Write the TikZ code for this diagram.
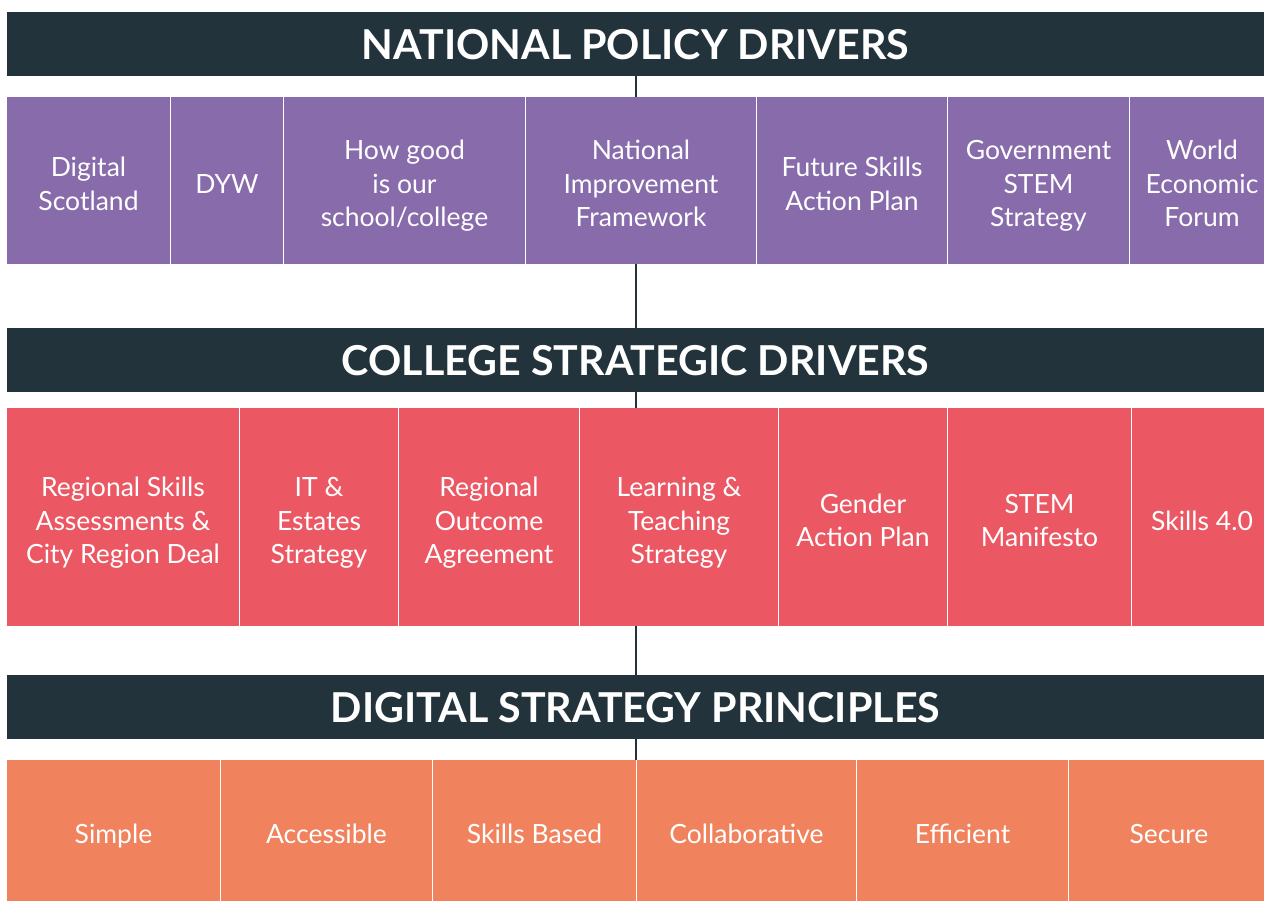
\documentclass[tikz,border=0pt]{standalone}
\usepackage{fontspec}
\setmainfont{Lato}
\usetikzlibrary{positioning}
\definecolor{headcol}{HTML}{22333B}
\definecolor{natcol}{HTML}{886BAB}
\definecolor{colcol}{HTML}{EB5864}
\definecolor{digcol}{HTML}{F0825D}
\newcommand{\topline}{\rule{0pt}{34pt}}
\begin{document}
\begin{tikzpicture}[x=1pt,y=-1pt]
   \tikzstyle{header}=[fill=headcol,text=white,anchor=north west,inner sep=0,outer sep=0,
      minimum width=1257pt,minimum height=64pt,text height=31.5pt,text depth=0pt,
      font=\fontsize{41.2}{48}\selectfont\bfseries]
   \tikzstyle{box}=[text=white,align=center,inner sep=0,outer sep=0,
      font=\fontsize{26.5}{33.5}\selectfont,
      execute at end node={\rule[-8pt]{0pt}{8pt}}]
   \tikzstyle{nat}=[box,fill=natcol,minimum height=167pt]
   \tikzstyle{col}=[box,fill=colcol,minimum height=218pt]
   \tikzstyle{dig}=[box,fill=digcol,minimum height=141pt]
   \tikzstyle{spine}=[draw=headcol,line width=2pt]
   \useasboundingbox (0,0) rectangle (1264,901);
   \coordinate (axis) at (636,0);
   % national policy drivers
   \node (npd) [header] at (7,12) {NATIONAL POLICY DRIVERS};
   \node (digital) [nat,anchor=north west,minimum width=163pt] at (7,97) {\topline Digital\\Scotland};
   \node (dyw) [nat,right=1pt of digital,minimum width=112pt] {\topline DYW};
   \node (hgios) [nat,right=1pt of dyw,minimum width=241pt] {\topline How good\\is our\\school/college};
   \node (nif) [nat,right=1pt of hgios,minimum width=230pt] {\topline National\\Improvement\\Framework};
   \node (fsap) [nat,right=1pt of nif,minimum width=190pt] {\topline Future Skills\\Action Plan};
   \node (gstem) [nat,right=1pt of fsap,minimum width=181pt] {\topline Government\\STEM\\Strategy};
   \node (wef) [nat,right=1pt of gstem,minimum width=144pt] {\topline World\\Economic\\Forum};
   % college strategic drivers
   \node (csd) [header] at (7,328) {COLLEGE STRATEGIC DRIVERS};
   \node (rsa) [col,anchor=north west,minimum width=232pt] at (7,408) {\topline Regional Skills\\Assessments \&\\City Region Deal};
   \node (ites) [col,right=1pt of rsa,minimum width=158pt] {\topline IT \&\\Estates\\Strategy};
   \node (roa) [col,right=1pt of ites,minimum width=180pt] {\topline Regional\\Outcome\\Agreement};
   \node (lts) [col,right=1pt of roa,minimum width=198pt] {\topline Learning \&\\Teaching\\Strategy};
   \node (gap) [col,right=1pt of lts,minimum width=168pt] {\topline Gender\\Action Plan};
   \node (stemm) [col,right=1pt of gap,minimum width=183pt] {\topline STEM\\Manifesto};
   \node (skills) [col,right=1pt of stemm,minimum width=140pt] {\topline Skills 4.0};
   % digital strategy principles
   \node (dsp) [header] at (7,675) {DIGITAL STRATEGY PRINCIPLES};
   \node (simple) [dig,anchor=north west,minimum width=213pt] at (7,760) {\topline Simple};
   \node (access) [dig,right=1pt of simple,minimum width=211pt] {\topline Accessible};
   \node (sbased) [dig,right=1pt of access,minimum width=203pt] {\topline Skills Based};
   \node (collab) [dig,right=1pt of sbased,minimum width=219pt] {\topline Collaborative};
   \node (effic) [dig,right=1pt of collab,minimum width=211pt] {\topline Efficient};
   \node (secure) [dig,right=1pt of effic,minimum width=200pt] {\topline Secure};
   % spine
   \path [spine] (npd.south -| axis) -- (nif.north -| axis) ;
   \path [spine] (nif.south -| axis) -- (csd.north -| axis) ;
   \path [spine] (csd.south -| axis) -- (lts.north -| axis) ;
   \path [spine] (lts.south -| axis) -- (dsp.north -| axis) ;
   \path [spine] (dsp.south -| axis) -- (collab.north -| axis) ;
\end{tikzpicture}
\end{document}
